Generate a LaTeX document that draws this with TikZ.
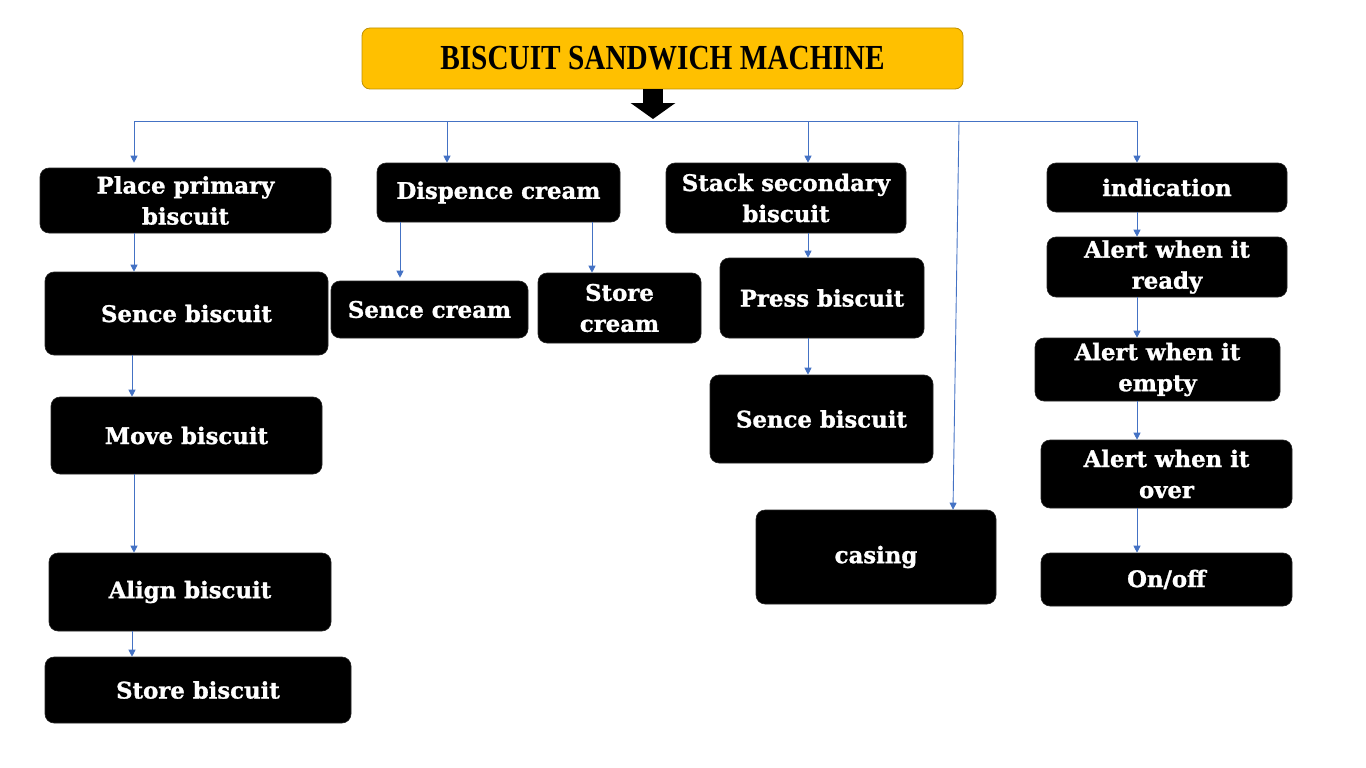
\documentclass[tikz,border=0pt]{standalone}
\usepackage{fontspec}
\usepackage{graphicx}
\usetikzlibrary{arrows.meta}
\newfontfamily\bodyfont{DejaVu Serif}[BoldFont={DejaVu Serif Bold},BoldFeatures={FakeBold=1.2}]
\newfontfamily\headfont{Liberation Serif}
\definecolor{gold}{HTML}{FFC000}
\definecolor{goldline}{HTML}{BF9000}
\definecolor{conncol}{HTML}{4472C4}
\tikzset{
  box/.style={fill=black, draw=black!85, line width=0.6pt, rounded corners=9pt,
    text=white, align=center, inner sep=0pt,
    font=\bodyfont\bfseries\fontsize{22.8}{31}\selectfont},
  titlebox/.style={fill=gold, draw=goldline, line width=0.8pt, rounded corners=8pt,
    inner sep=0pt, font=\headfont\bfseries\fontsize{29.3}{30}\selectfont},
  conn/.style={draw=conncol, line width=0.9pt, -{Triangle[width=7pt,length=7pt]}},
  bus/.style={draw=conncol, line width=0.9pt},
  bigarrow/.style={draw=black, line width=20pt, -{Triangle[width=44pt,length=16pt]}}
}
\begin{document}
\begin{tikzpicture}[x=1pt,y=-1pt]
\useasboundingbox (0,0) rectangle (1366,768);
% title
\node[titlebox, minimum width=601pt, minimum height=61pt] (title) at (662.5,58.5)
  {\scalebox{1}[1.2]{BISCUIT SANDWICH MACHINE}};
% column 1
\node[box, minimum width=291pt, minimum height=65pt] (p1) at (185.5,200.5) {Place primary\\biscuit};
\node[box, minimum width=283pt, minimum height=83pt] (p2) at (186.5,313.5) {\raisebox{-2pt}{Sence biscuit}};
\node[box, minimum width=271pt, minimum height=77pt] (p3) at (186.5,435.5) {\raisebox{-2pt}{Move biscuit}};
\node[box, minimum width=282pt, minimum height=78pt] (p4) at (190,592) {\raisebox{-2pt}{Align biscuit}};
\node[box, minimum width=306pt, minimum height=66pt] (p5) at (198,690) {\raisebox{-2pt}{Store biscuit}};
% column 2
\node[box, minimum width=243pt, minimum height=59pt] (d1) at (498.5,192.5) {\raisebox{-2pt}{Dispence cream}};
\node[box, minimum width=197pt, minimum height=57pt] (d2) at (429.5,309.5) {\raisebox{-2pt}{Sence cream}};
\node[box, minimum width=163pt, minimum height=70pt] (d3) at (619.5,308) {Store\\cream};
% column 3
\node[box, minimum width=240pt, minimum height=70pt] (s1) at (786,198) {Stack secondary\\biscuit};
\node[box, minimum width=204pt, minimum height=80pt] (s2) at (822,298) {Press biscuit};
\node[box, minimum width=223pt, minimum height=88pt] (s3) at (821.5,419) {Sence biscuit};
% casing
\node[box, minimum width=240pt, minimum height=94pt] (c1) at (876,557) {\raisebox{-2pt}{casing}};
% column 5
\node[box, minimum width=240pt, minimum height=49pt] (i1) at (1167,187.5) {indication};
\node[box, minimum width=240pt, minimum height=60pt] (i2) at (1167,267) {Alert when it\\ready};
\node[box, minimum width=245pt, minimum height=63pt] (i3) at (1157.5,369.5) {Alert when it\\empty};
\node[box, minimum width=251pt, minimum height=68pt] (i4) at (1166.5,474) {Alert when it\\over};
\node[box, minimum width=251pt, minimum height=53pt] (i5) at (1166.5,579.5) {On/off};
% bus and coordinates
\coordinate (tip) at (653,119);
\coordinate (b1) at (134,121);
\coordinate (b2) at (447,121);
\coordinate (b3) at (808,121);
\coordinate (b4) at (959,121);
\coordinate (b5) at (1137,121);
\coordinate (xa) at (134,0);
\coordinate (xb) at (132,0);
\coordinate (xd2) at (400,0);
\coordinate (xd3) at (592,0);
\coordinate (xs) at (808,0);
\coordinate (xc) at (953,0);
\coordinate (xi) at (1137,0);
\draw[bigarrow] (title.south -| tip) -- (tip);
\draw[bus] (b1) -- (b5);
\draw[conn, shorten >=5pt] (b1) -- (p1.north -| b1);
\draw[conn] (b2) -- (d1.north -| b2);
\draw[conn] (b3) -- (s1.north -| b3);
\draw[conn] (b4) -- (c1.north -| xc);
\draw[conn] (b5) -- (i1.north -| b5);
% column 1 chain
\draw[conn] (p1.south -| xa) -- (p2.north -| xa);
\draw[conn] (p2.south -| xb) -- (p3.north -| xb);
\draw[conn] (p3.south -| xa) -- (p4.north -| xa);
\draw[conn] (p4.south -| xb) -- (p5.north -| xb);
% column 2
\draw[conn, shorten >=3pt] (d1.south -| xd2) -- (d2.north -| xd2);
\draw[conn] (d1.south -| xd3) -- (d3.north -| xd3);
% column 3
\draw[conn] (s1.south -| xs) -- (s2.north -| xs);
\draw[conn] (s2.south -| xs) -- (s3.north -| xs);
% column 5
\draw[conn] (i1.south -| xi) -- (i2.north -| xi);
\draw[conn] (i2.south -| xi) -- (i3.north -| xi);
\draw[conn] (i3.south -| xi) -- (i4.north -| xi);
\draw[conn] (i4.south -| xi) -- (i5.north -| xi);
\end{tikzpicture}
\end{document}
